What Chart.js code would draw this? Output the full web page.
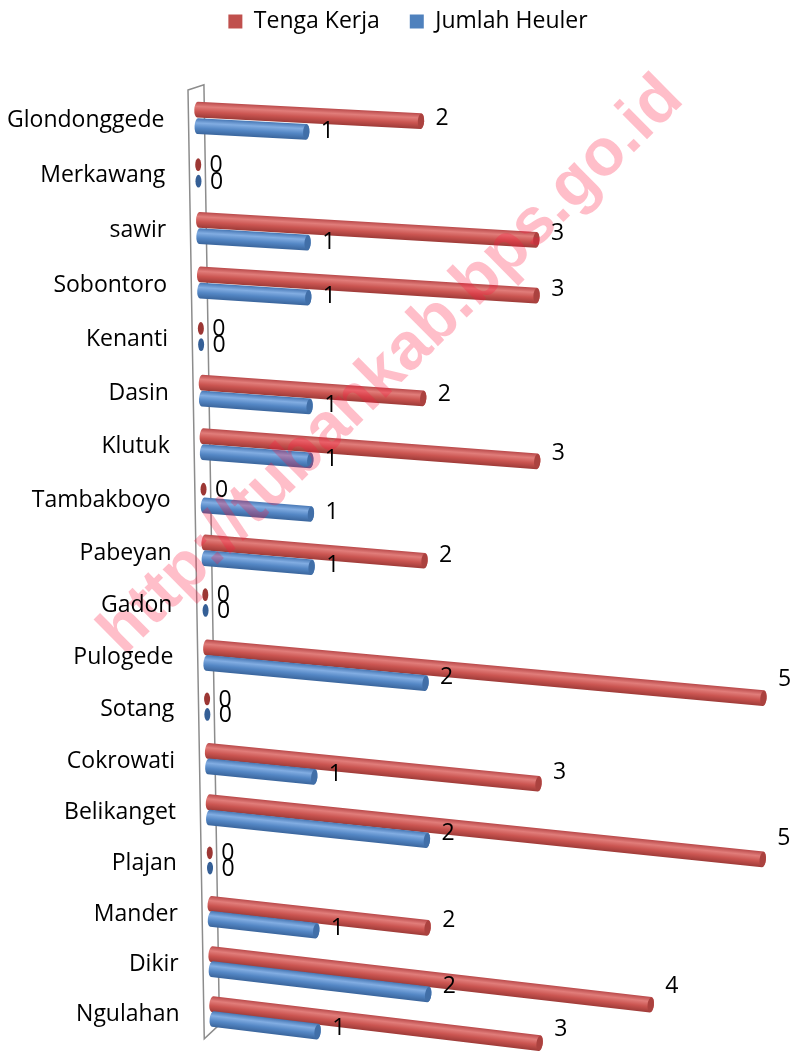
<!DOCTYPE html>
<html>
<head>
<meta charset="utf-8">
<script src="https://cdn.jsdelivr.net/npm/chart.js@4.4.0/dist/chart.umd.min.js"></script>
<style>
  html, body { margin: 0; padding: 0; background: #fff; }
  #wrap { width: 800px; height: 1051px; }
</style>
</head>
<body>
<div id="wrap"><canvas id="desaChart"></canvas></div>
<script>
const desaLabels = ['Glondonggede', 'Merkawang', 'sawir', 'Sobontoro', 'Kenanti', 'Dasin', 'Klutuk', 'Tambakboyo', 'Pabeyan', 'Gadon', 'Pulogede', 'Sotang', 'Cokrowati', 'Belikanget', 'Plajan', 'Mander', 'Dikir', 'Ngulahan'];
const tengaKerja = [2, 0, 3, 3, 0, 2, 3, 0, 2, 0, 5, 0, 3, 5, 0, 2, 4, 3];
const jumlahHeuler = [1, 0, 1, 1, 0, 1, 1, 1, 1, 0, 2, 0, 1, 2, 0, 1, 2, 1];
const seriesNames = ['Tenga Kerja', 'Jumlah Heuler'];
const watermarkText = 'http://tubankab.bps.go.id';

const textFont = '23px "Open Sans"';

// cylinder shading per series
const palettes = [
    { stops: ['#b9494a', '#e17d7a', '#cb5551', '#9e3b38'], cap: '#ab423f', dot: '#9c3734' },
    { stops: ['#4777b4', '#82ade2', '#5487c5', '#3a659c'], cap: '#416fa8', dot: '#355f96' }
];

// fake perspective: rows spread a bit in the middle, bars lean more further down
function project(chart, x, y) {
    const a = chart.chartArea;
    const h = a.bottom - a.top;
    const t = (y - a.top) / h;
    return {
        x: x + t * (16 - (x - a.left) * 0.035),
        y: y + 0.0565 * h * t * (1 - t),
        t: t
    };
}

function barGeom(chart, bar) {
    const p = project(chart, bar.base, bar.y);
    const k = 0.05 + 0.072 * p.t;
    const xr = project(chart, bar.x, bar.y).x;
    const len = xr - p.x;
    return { x0: p.x, y0: p.y, x1: xr, y1: p.y + k * len, k: k, len: len, th: bar.height };
}

function drawCylinder(ctx, g, pal) {
    const r = g.th / 2;
    if (g.len < 2) {
        ctx.fillStyle = pal.dot;
        ctx.beginPath();
        ctx.ellipse(g.x0 + 3, g.y0, 3, r - 1.5, 0, 0, Math.PI * 2);
        ctx.fill();
        return;
    }
    const ang = Math.atan(g.k);
    const L = Math.hypot(g.len, g.k * g.len);
    const rx = g.th * 0.2;
    ctx.save();
    ctx.translate(g.x0, g.y0);
    ctx.rotate(ang);
    const grad = ctx.createLinearGradient(0, -r, 0, r);
    grad.addColorStop(0, pal.stops[0]);
    grad.addColorStop(0.3, pal.stops[1]);
    grad.addColorStop(0.62, pal.stops[2]);
    grad.addColorStop(1, pal.stops[3]);
    ctx.fillStyle = grad;
    ctx.beginPath();
    ctx.moveTo(rx, -r);
    ctx.lineTo(L - rx, -r);
    ctx.ellipse(L - rx, 0, rx, r, 0, -Math.PI / 2, Math.PI / 2);
    ctx.lineTo(rx, r);
    ctx.ellipse(rx, 0, rx, r, 0, Math.PI / 2, Math.PI * 1.5);
    ctx.closePath();
    ctx.fill();
    ctx.fillStyle = pal.cap;
    ctx.beginPath();
    ctx.ellipse(L - rx, 0, rx, r - 0.5, 0, 0, Math.PI * 2);
    ctx.fill();
    ctx.restore();
}

const cylinderPlugin = {
    id: 'cylinder3d',
    beforeInit(chart) {
        const fit = chart.legend.fit;
        chart.legend.fit = function() {
            fit.bind(chart.legend)();
            this.height = 110;
        };
    },
    beforeDatasetDraw() {
        return false;
    },
    afterDatasetsDraw(chart) {
        const ctx = chart.ctx;
        const a = chart.chartArea;
        const base = chart.scales.x.getPixelForValue(0);

        // side wall
        const w1 = project(chart, base - 6, a.top);
        const w2 = project(chart, base + 10, a.top - 5);
        const w3 = project(chart, base + 10, a.bottom - 12);
        const w4 = project(chart, base - 6, a.bottom + 3);
        ctx.save();
        ctx.strokeStyle = '#8c8c8c';
        ctx.lineWidth = 1.5;
        ctx.beginPath();
        ctx.moveTo(w1.x, w1.y);
        ctx.lineTo(w2.x, w2.y);
        ctx.lineTo(w3.x, w3.y);
        ctx.lineTo(w4.x, w4.y);
        ctx.closePath();
        ctx.stroke();

        for (let i = 0; i < desaLabels.length; i++) {
            for (let d = 0; d < 2; d++) {
                const bar = chart.getDatasetMeta(d).data[i];
                drawCylinder(ctx, barGeom(chart, bar), palettes[d]);
            }
        }
        ctx.restore();
    },
    afterDraw(chart) {
        const ctx = chart.ctx;
        const base = chart.scales.x.getPixelForValue(0);

        // watermark
        ctx.save();
        ctx.font = 'bold 50px "Liberation Sans"';
        const wm = ctx.measureText(watermarkText).width;
        ctx.translate(392, 366);
        ctx.rotate(-44.7 * Math.PI / 180);
        ctx.scale(790 / wm, 790 / wm);
        ctx.fillStyle = 'rgba(255, 20, 60, 0.28)';
        ctx.textAlign = 'center';
        ctx.textBaseline = 'middle';
        ctx.fillText(watermarkText, 0, 0);
        ctx.restore();

        ctx.save();
        ctx.font = textFont;
        ctx.fillStyle = '#000';
        ctx.textBaseline = 'middle';

        // category names
        ctx.textAlign = 'right';
        desaLabels.forEach((name, i) => {
            const c = project(chart, base, chart.scales.y.getPixelForValue(i));
            ctx.fillText(name, c.x - 30, c.y + 3);
        });

        // value labels
        ctx.textAlign = 'center';
        chart.data.datasets.forEach((ds, d) => {
            chart.getDatasetMeta(d).data.forEach((bar, i) => {
                const g = barGeom(chart, bar);
                if (g.len < 2) {
                    ctx.fillText(String(ds.data[i]), g.x0 + 21, g.y0 + 1);
                } else {
                    ctx.fillText(String(ds.data[i]), g.x1 + 18, g.y0 + 0.6 * g.k * g.len + 2);
                }
            });
        });
        ctx.restore();
    }
};

new Chart(document.getElementById('desaChart'), {
    type: 'bar',
    data: {
        labels: desaLabels,
        datasets: [{
            label: seriesNames[0],
            data: tengaKerja,
            backgroundColor: '#c0504d'
        }, {
            label: seriesNames[1],
            data: jumlahHeuler,
            backgroundColor: '#4f81bd'
        }]
    },
    options: {
        indexAxis: 'y',
        responsive: true,
        maintainAspectRatio: false,
        animation: false,
        categoryPercentage: 0.6,
        barPercentage: 1.0,
        layout: {
            padding: { top: -20, left: 16, right: 0, bottom: 15 }
        },
        plugins: {
            legend: {
                position: 'top',
                labels: {
                    font: { family: 'Open Sans', size: 23 },
                    color: '#000',
                    boxWidth: 14,
                    boxHeight: 14,
                    padding: 30
                }
            },
            tooltip: { enabled: false }
        },
        scales: {
            x: {
                display: false,
                min: 0,
                max: 5.27
            },
            y: {
                display: true,
                ticks: { display: false },
                grid: { display: false },
                border: { display: false },
                afterFit: function(scale) { scale.width = 178; }
            }
        }
    },
    plugins: [cylinderPlugin]
});
</script>
</body>
</html>
